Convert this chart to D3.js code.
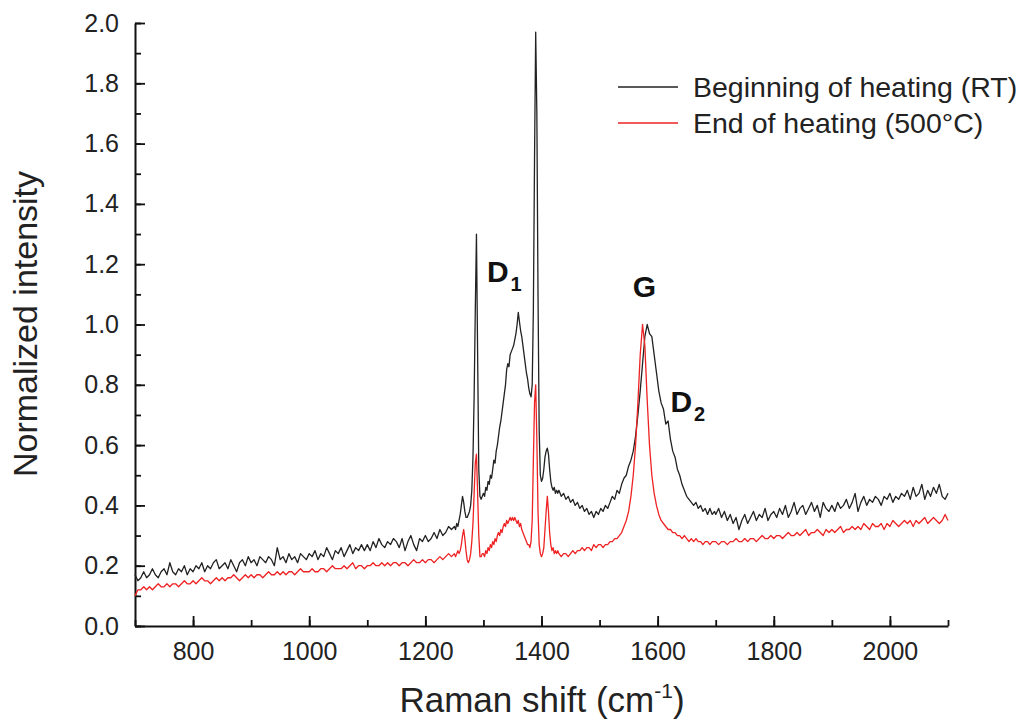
<!DOCTYPE html>
<html>
<head>
<meta charset="utf-8">
<script src="https://cdn.jsdelivr.net/npm/d3@7"></script>
<style>
  body { margin: 0; background: #fff; }
  svg { display: block; }
</style>
</head>
<body>
<svg id="raman_svg"></svg>
<script>
// Raman shift grid (cm-1), finer around the sharp peaks
const shiftLow = d3.range(700, 1250, 5);
const shiftD = d3.range(1250, 1430, 2);
const shiftG = d3.range(1430, 1700, 4);
const shiftHigh = d3.range(1700, 2101, 5);

// Beginning of heating (RT)
const rtLow = [
  0.17, 0.15, 0.16, 0.18, 0.16, 0.17, 0.19, 0.17, 0.16, 0.18,
  0.19, 0.17, 0.21, 0.18, 0.17, 0.19, 0.18, 0.20, 0.17, 0.19,
  0.18, 0.20, 0.19, 0.21, 0.18, 0.20, 0.19, 0.21, 0.22, 0.19,
  0.20, 0.21, 0.19, 0.22, 0.20, 0.18, 0.21, 0.22, 0.20, 0.23,
  0.21, 0.22, 0.20, 0.23, 0.22, 0.21, 0.23, 0.22, 0.20, 0.26,
  0.22, 0.23, 0.21, 0.24, 0.22, 0.23, 0.21, 0.24, 0.23, 0.22,
  0.24, 0.23, 0.25, 0.22, 0.24, 0.23, 0.26, 0.24, 0.22, 0.25,
  0.24, 0.26, 0.23, 0.25, 0.27, 0.24, 0.26, 0.25, 0.27, 0.25,
  0.27, 0.25, 0.28, 0.26, 0.29, 0.27, 0.26, 0.28, 0.27, 0.29,
  0.28, 0.26, 0.29, 0.25, 0.28, 0.30, 0.27, 0.25, 0.29, 0.28,
  0.30, 0.28, 0.29, 0.31, 0.29, 0.32, 0.30, 0.31, 0.33, 0.32,
];
const rtD = [
  0.33, 0.32, 0.34, 0.33, 0.35, 0.37, 0.40, 0.43, 0.41, 0.38,
  0.36, 0.36, 0.37, 0.38, 0.40, 0.45, 0.56, 0.76, 1.05, 1.30,
  0.90, 0.52, 0.43, 0.42, 0.43, 0.44, 0.43, 0.46, 0.45, 0.48,
  0.47, 0.50, 0.49, 0.52, 0.55, 0.54, 0.58, 0.60, 0.63, 0.66,
  0.68, 0.71, 0.74, 0.77, 0.80, 0.85, 0.87, 0.86, 0.90, 0.91,
  0.92, 0.93, 0.95, 0.97, 1.00, 1.04, 1.01, 0.98, 0.96, 0.93,
  0.90, 0.87, 0.84, 0.82, 0.79, 0.77, 0.76, 0.80, 1.05, 1.55,
  1.97, 1.70, 1.10, 0.65, 0.50, 0.48, 0.49, 0.52, 0.56, 0.58,
  0.59, 0.57, 0.52, 0.48, 0.46, 0.45, 0.46, 0.44, 0.45, 0.44,
];
const rtG = [
  0.45, 0.43, 0.44, 0.42, 0.43, 0.41, 0.42, 0.40, 0.41, 0.39,
  0.40, 0.38, 0.39, 0.37, 0.38, 0.36, 0.38, 0.37, 0.39, 0.38,
  0.40, 0.39, 0.41, 0.43, 0.42, 0.45, 0.44, 0.47, 0.49, 0.50,
  0.53, 0.55, 0.58, 0.63, 0.70, 0.78, 0.87, 0.96, 1.00, 0.97,
  0.96, 0.90, 0.84, 0.78, 0.74, 0.72, 0.67, 0.68, 0.62, 0.58,
  0.56, 0.52, 0.50, 0.47, 0.45, 0.43, 0.42, 0.41, 0.40, 0.41,
  0.39, 0.40, 0.38, 0.39, 0.37, 0.39, 0.37, 0.38,
];
const rtHigh = [
  0.37, 0.39, 0.36, 0.38, 0.35, 0.37, 0.34, 0.36, 0.32, 0.35,
  0.37, 0.34, 0.36, 0.38, 0.35, 0.37, 0.36, 0.39, 0.35, 0.37,
  0.38, 0.36, 0.39, 0.37, 0.40, 0.36, 0.38, 0.41, 0.37, 0.39,
  0.40, 0.37, 0.39, 0.41, 0.38, 0.40, 0.36, 0.41, 0.39, 0.38,
  0.40, 0.38, 0.41, 0.39, 0.40, 0.42, 0.39, 0.41, 0.44, 0.38,
  0.41, 0.43, 0.40, 0.42, 0.41, 0.43, 0.42, 0.40, 0.43, 0.42,
  0.44, 0.41, 0.43, 0.42, 0.44, 0.43, 0.45, 0.42, 0.46, 0.43,
  0.44, 0.47, 0.42, 0.45, 0.43, 0.46, 0.44, 0.47, 0.43, 0.42,
  0.44,
];

// End of heating (500°C)
const hotLow = [
  0.10, 0.12, 0.12, 0.13, 0.12, 0.13, 0.12, 0.13, 0.14, 0.13,
  0.13, 0.14, 0.13, 0.14, 0.14, 0.13, 0.14, 0.15, 0.14, 0.14,
  0.15, 0.14, 0.15, 0.16, 0.15, 0.15, 0.14, 0.15, 0.16, 0.15,
  0.16, 0.15, 0.16, 0.16, 0.17, 0.16, 0.15, 0.16, 0.17, 0.16,
  0.17, 0.16, 0.17, 0.17, 0.16, 0.17, 0.18, 0.17, 0.17, 0.18,
  0.17, 0.18, 0.17, 0.18, 0.18, 0.17, 0.18, 0.19, 0.18, 0.18,
  0.18, 0.19, 0.18, 0.18, 0.19, 0.19, 0.18, 0.19, 0.20, 0.19,
  0.19, 0.19, 0.20, 0.19, 0.20, 0.21, 0.19, 0.20, 0.20, 0.19,
  0.20, 0.20, 0.21, 0.20, 0.20, 0.21, 0.20, 0.21, 0.20, 0.21,
  0.21, 0.20, 0.21, 0.21, 0.20, 0.21, 0.22, 0.21, 0.21, 0.22,
  0.21, 0.22, 0.22, 0.21, 0.22, 0.23, 0.22, 0.23, 0.24, 0.23,
];
const hotD = [
  0.24, 0.23, 0.24, 0.25, 0.24, 0.25, 0.27, 0.30, 0.32, 0.29,
  0.25, 0.22, 0.21, 0.22, 0.24, 0.28, 0.34, 0.44, 0.54, 0.57,
  0.44, 0.30, 0.23, 0.23, 0.24, 0.24, 0.23, 0.25, 0.24, 0.26,
  0.25, 0.27, 0.26, 0.28, 0.27, 0.29, 0.28, 0.30, 0.31, 0.30,
  0.32, 0.31, 0.33, 0.34, 0.33, 0.35, 0.34, 0.35, 0.36, 0.35,
  0.36, 0.35, 0.36, 0.35, 0.34, 0.35, 0.33, 0.34, 0.32, 0.31,
  0.30, 0.29, 0.28, 0.27, 0.27, 0.26, 0.28, 0.35, 0.55, 0.74,
  0.80, 0.62, 0.38, 0.27, 0.24, 0.23, 0.24, 0.26, 0.32, 0.38,
  0.43, 0.38, 0.31, 0.27, 0.25, 0.26, 0.24, 0.25, 0.24, 0.25,
];
const hotG = [
  0.24, 0.23, 0.24, 0.24, 0.23, 0.24, 0.25, 0.24, 0.25, 0.25,
  0.26, 0.25, 0.26, 0.26, 0.25, 0.27, 0.26, 0.27, 0.27, 0.26,
  0.27, 0.27, 0.28, 0.28, 0.29, 0.29, 0.30, 0.31, 0.33, 0.35,
  0.38, 0.43, 0.50, 0.60, 0.74, 0.90, 1.00, 0.93, 0.75, 0.60,
  0.50, 0.44, 0.40, 0.37, 0.35, 0.34, 0.33, 0.32, 0.32, 0.31,
  0.31, 0.30, 0.30, 0.29, 0.30, 0.29, 0.28, 0.29, 0.28, 0.29,
  0.28, 0.28, 0.27, 0.28, 0.28, 0.27, 0.28, 0.28,
];
const hotHigh = [
  0.28, 0.27, 0.28, 0.28, 0.27, 0.28, 0.28, 0.29, 0.28, 0.28,
  0.29, 0.28, 0.29, 0.29, 0.28, 0.29, 0.30, 0.29, 0.29, 0.30,
  0.29, 0.30, 0.30, 0.29, 0.30, 0.31, 0.30, 0.30, 0.31, 0.30,
  0.31, 0.32, 0.30, 0.31, 0.31, 0.32, 0.31, 0.30, 0.32, 0.31,
  0.32, 0.31, 0.32, 0.33, 0.31, 0.32, 0.32, 0.33, 0.32, 0.33,
  0.32, 0.34, 0.33, 0.32, 0.34, 0.33, 0.33, 0.34, 0.32, 0.34,
  0.33, 0.35, 0.34, 0.33, 0.34, 0.35, 0.34, 0.35, 0.33, 0.35,
  0.34, 0.35, 0.36, 0.34, 0.35, 0.36, 0.35, 0.34, 0.35, 0.37,
  0.35,
];

const xTicks = [800, 1000, 1200, 1400, 1600, 1800, 2000];
const yTicks = [0, 0.2, 0.4, 0.6, 0.8, 1.0, 1.2, 1.4, 1.6, 1.8, 2.0];
const seriesNames = ["Beginning of heating (RT)", "End of heating (500°C)"];
const seriesColors = ["#222222", "#ee2222"];

const shift = [...shiftLow, ...shiftD, ...shiftG, ...shiftHigh];
const series = [
  [...rtLow, ...rtD, ...rtG, ...rtHigh],
  [...hotLow, ...hotD, ...hotG, ...hotHigh],
];

const width = 1028;
const height = 724;
const font = "Arial, 'Liberation Sans', sans-serif";

const svg = d3
  .select("#raman_svg")
  .attr("width", width)
  .attr("height", height)
  .style("font-family", font);

const x = d3.scaleLinear().domain([700, 2100]).range([135, 948]);
const y = d3.scaleLinear().domain([0, 2]).range([626, 23]);

// minor ticks first, then the labelled axes on top
svg
  .append("g")
  .attr("transform", `translate(0,${y(0)})`)
  .call(d3.axisBottom(x).tickValues(d3.range(700, 2101, 100)).tickSize(-6).tickSizeOuter(0).tickFormat(""))
  .call((g) => g.select(".domain").remove());
svg
  .append("g")
  .attr("transform", `translate(${x(700)},0)`)
  .call(d3.axisLeft(y).tickValues(d3.range(0, 2.01, 0.1)).tickSize(-6).tickSizeOuter(0).tickFormat(""))
  .call((g) => g.select(".domain").remove());

const xAxis = svg
  .append("g")
  .attr("transform", `translate(0,${y(0)})`)
  .call(d3.axisBottom(x).tickValues(xTicks).tickSize(-10).tickSizeOuter(0).tickPadding(16).tickFormat(d3.format("d")));
const yAxis = svg
  .append("g")
  .attr("transform", `translate(${x(700)},0)`)
  .call(d3.axisLeft(y).tickValues(yTicks).tickSize(-10).tickSizeOuter(0).tickPadding(16).tickFormat(d3.format(".1f")));

svg.selectAll(".tick line").attr("stroke", "#111").attr("stroke-width", 1.8);
[xAxis, yAxis].forEach((g) => {
  g.select(".domain").attr("stroke", "#111").attr("stroke-width", 2);
  g.selectAll("text")
    .style("font-family", font)
    .style("font-size", "25px")
    .attr("fill", "#222");
});

const line = d3
  .line()
  .x((d, i) => x(shift[i]))
  .y((d) => y(d));

svg
  .selectAll(".spectrum")
  .data(series)
  .enter()
  .append("path")
  .attr("class", "spectrum")
  .attr("d", line)
  .attr("fill", "none")
  .attr("stroke", (d, i) => seriesColors[i])
  .attr("stroke-width", 1.3)
  .attr("stroke-linejoin", "round");

// legend
const legend = svg
  .selectAll(".legend")
  .data(seriesNames)
  .enter()
  .append("g")
  .attr("class", "legend")
  .attr("transform", (d, i) => `translate(618,${87 + i * 36})`);
legend
  .append("line")
  .attr("x1", 0)
  .attr("x2", 60)
  .attr("stroke", (d, i) => seriesColors[i])
  .attr("stroke-width", 1.3);
legend
  .append("text")
  .attr("x", 75)
  .attr("dy", "0.35em")
  .style("font-size", "28.5px")
  .attr("fill", "#222")
  .text((d) => d);

// band labels
const bands = [
  { name: "D", sub: "1", at: 1306, level: 1.14 },
  { name: "G", sub: "", at: 1557, level: 1.09 },
  { name: "D", sub: "2", at: 1622, level: 0.71 },
];
bands.forEach((b) => {
  const t = svg
    .append("text")
    .attr("x", x(b.at))
    .attr("y", y(b.level))
    .style("font-size", "30px")
    .style("font-weight", "bold")
    .attr("fill", "#111")
    .text(b.name);
  if (b.sub) {
    t.append("tspan").attr("dx", 2).attr("dy", 9).style("font-size", "20px").text(b.sub);
  }
});

// axis titles
svg
  .append("text")
  .attr("x", 542)
  .attr("y", 712)
  .attr("text-anchor", "middle")
  .style("font-size", "35px")
  .attr("fill", "#222")
  .text("Raman shift (cm")
  .call((t) => t.append("tspan").attr("dy", -14).style("font-size", "21px").text("-1"))
  .call((t) => t.append("tspan").attr("dy", 14).text(")"));

svg
  .append("text")
  .attr("transform", "translate(37,324) rotate(-90)")
  .attr("text-anchor", "middle")
  .style("font-size", "34px")
  .attr("fill", "#222")
  .text("Normalized intensity");
</script>
</body>
</html>
